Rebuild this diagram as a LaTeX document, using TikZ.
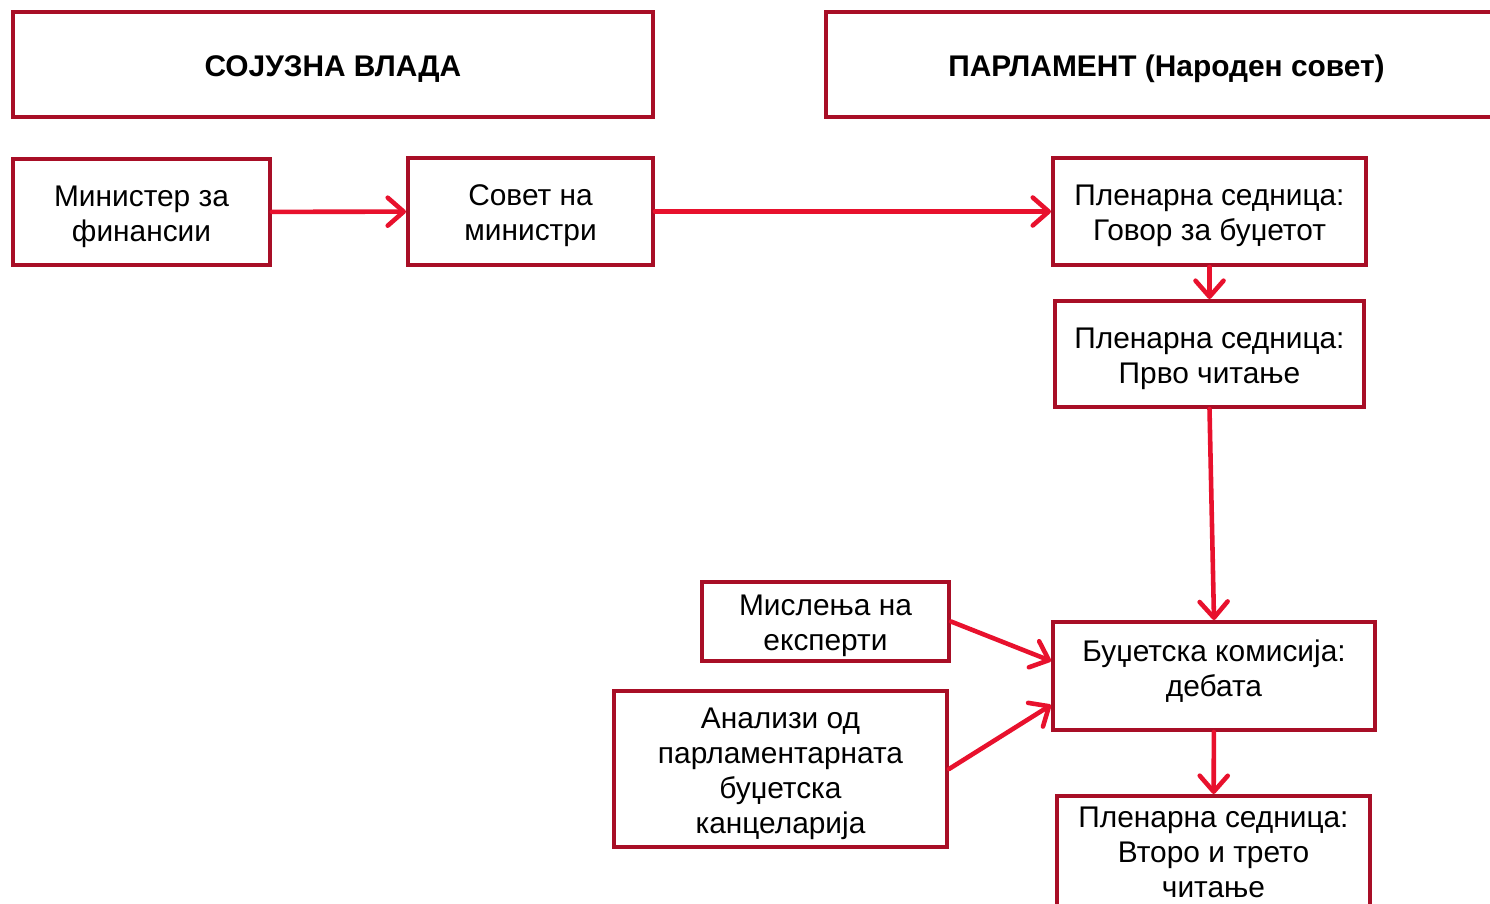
\documentclass[tikz,border=0pt]{standalone}
\usepackage{fontspec}
\setmainfont{Liberation Sans}
\usetikzlibrary{arrows.meta,positioning}
\definecolor{boxred}{RGB}{168,14,38}
\definecolor{arrowred}{RGB}{232,17,45}
\newcommand{\tstrut}{\rule{0pt}{17pt}}

\begin{document}
\begin{tikzpicture}[x=0.02cm,y=-0.02cm,
	box/.style={draw=boxred,line width=2.3pt,align=center,inner sep=2pt,font=\fontsize{17}{20}\selectfont},
	head/.style={box,font=\fontsize{17}{20}\selectfont\bfseries},
	flow/.style={draw=arrowred,line width=2.6pt,line cap=round,-{Straight Barb[length=3.2mm,width=5.6mm,round]}}]
	\clip (0,0) rectangle (1490,903);

	\begin{scope} % Headers
		\node[head,minimum width=12.8cm,minimum height=2.1cm] (vlada) at (333,64.5) {\tstrut СОЈУЗНА ВЛАДА};
		\node[head,minimum width=13.62cm,minimum height=2.1cm] (parl) at (1166.5,64.5) {\tstrut ПАРЛАМЕНТ (Народен совет)};
	\end{scope}

	\begin{scope} % Government side
		\node[box,minimum width=5.14cm,minimum height=2.12cm] (minfin) at (141.5,212) {\tstrut Министер за\\финансии};
		\node[box,minimum width=4.9cm,minimum height=2.14cm] (sovet) at (530.5,211.5) {\tstrut Совет на\\министри};
	\end{scope}

	\begin{scope} % Parliament side
		\node[box,minimum width=6.26cm,minimum height=2.14cm] (govor) at (1209.5,211.5) {\tstrut Пленарна седница:\\Говор за буџетот};
		\node[box,minimum width=6.18cm,minimum height=2.12cm] (prvo) at (1209.5,354) {\tstrut Пленарна седница:\\Прво читање};
		\node[box,minimum width=6.44cm,minimum height=2.16cm,
			execute at end node={\rule[-9pt]{0pt}{9pt}}] (budzet) at (1214,676) {Буџетска комисија:\\дебата};
		\node[box,minimum width=6.26cm,minimum height=2.24cm] (vtoro) at (1213.5,852) {Пленарна седница:\\Второ и трето\\читање};
	\end{scope}

	\begin{scope} % Inputs to the committee
		\node[box,minimum width=4.94cm,minimum height=1.58cm] (mislenja) at (825.5,621.5) {\tstrut Мислења на\\експерти};
		\node[box,minimum width=6.66cm,minimum height=3.12cm] (analizi) at (780.5,769) {\tstrut Анализи од\\парламентарната\\буџетска\\канцеларија};
	\end{scope}

	\draw[flow] (minfin) -- (sovet);
	\draw[flow] (sovet) -- (govor);
	\draw[flow] (govor) -- (prvo);
	\draw[flow] (prvo.south) -- (budzet.north);
	\draw[flow] (mislenja.east) -- ([yshift=0.3cm]budzet.west);
	\draw[flow] (analizi.east) -- ([yshift=-0.58cm]budzet.west);
	\draw[flow] (budzet) -- (vtoro);
\end{tikzpicture}
\end{document}
